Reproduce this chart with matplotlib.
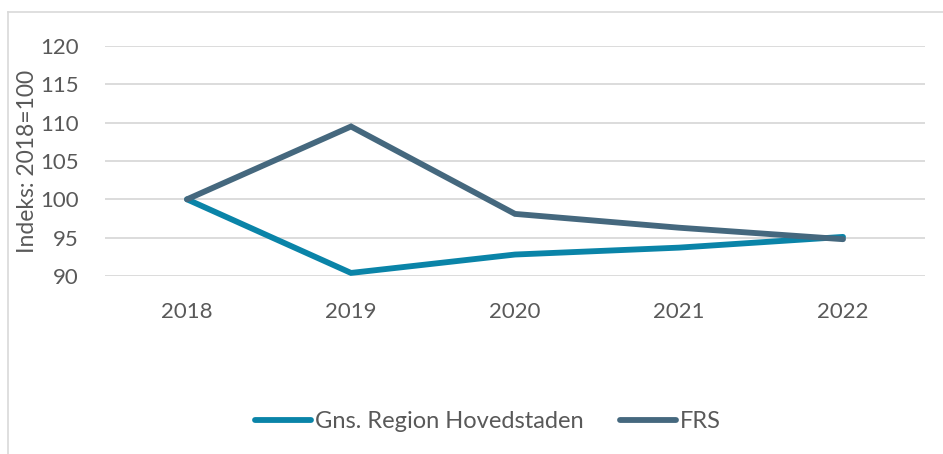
import matplotlib
matplotlib.use("Agg")
import matplotlib.pyplot as plt
from matplotlib.lines import Line2D

years = ["2018", "2019", "2020", "2021", "2022"]
gns = [100.0, 90.4, 92.8, 93.7, 95.1]
frs = [100.0, 109.5, 98.1, 96.3, 94.8]
series_names = ["Gns. Region Hovedstaden", "FRS"]
yticks = [90, 95, 100, 105, 110, 115, 120]

c_gns = "#0A84A8"
c_frs = "#45687E"
txt = "#595959"

plt.rcParams['font.family'] = ['Lato', 'DejaVu Sans']

fig = plt.figure(figsize=(9.43, 4.54), dpi=100)
ax = fig.add_axes([105/943, 1-276/454, 820/943, 230/454])
x = list(range(len(years)))
lw = 4.2
ax.plot(x, gns, color=c_gns, lw=lw, solid_capstyle='round', solid_joinstyle='miter', label=series_names[0], zorder=3)
ax.plot(x, frs, color=c_frs, lw=lw, solid_capstyle='round', solid_joinstyle='miter', label=series_names[1], zorder=3)
ax.set_xlim(-0.5, len(years)-0.5)
ax.set_ylim(90, 120)
ax.set_yticks(yticks)
ax.set_xticks(x)
ax.set_xticklabels(years)
ax.grid(axis='y', color='#D9D9D9', lw=1.3)
ax.set_axisbelow(True)
for s in ax.spines.values():
    s.set_visible(False)
ax.tick_params(axis='both', length=0, labelsize=16, labelcolor=txt)
ax.tick_params(axis='y', pad=19)
ax.tick_params(axis='x', pad=19)
ax.set_ylabel("Indeks: 2018=100", fontsize=16.5, color=txt)
ax.yaxis.set_label_coords(-67/820, 0.5)

leg = fig.legend(loc='center', bbox_to_anchor=(488/943, 1-422/454), ncol=2, frameon=False,
                 fontsize=17, handlelength=2.4, handletextpad=0.17, columnspacing=1.5)
for t in leg.get_texts():
    t.set_color(txt)
for h in leg.get_lines():
    h.set_linewidth(lw)
    h.set_solid_capstyle('round')

# chart border (top and left visible)
fig.add_artist(Line2D([8/943, 8/943], [0, 1-12/454], color='#D9D9D9', lw=1.2, transform=fig.transFigure))
fig.add_artist(Line2D([8/943, 1], [1-12/454, 1-12/454], color='#D9D9D9', lw=1.2, transform=fig.transFigure))

fig.savefig("out.png", dpi=100)
